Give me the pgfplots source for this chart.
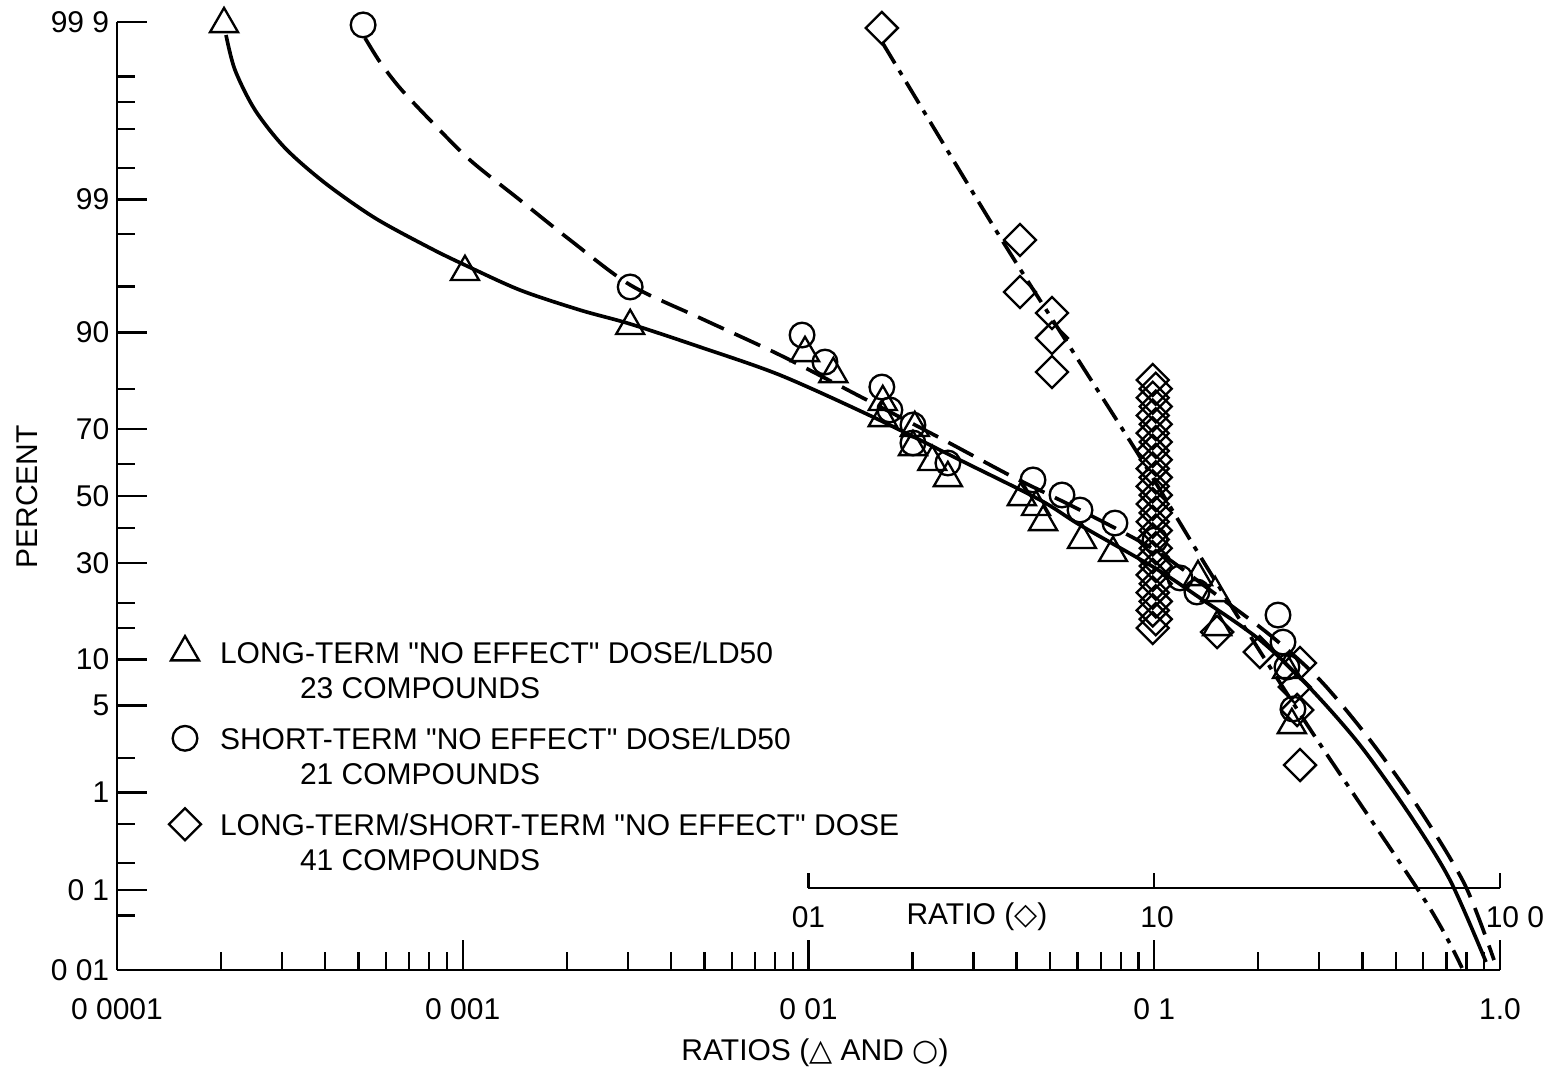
\documentclass[border=0pt]{standalone}
\usepackage{pgfplots}
\pgfplotsset{compat=1.18}
\usepackage{pgfplotstable}
\usepackage{fontspec}
\setmainfont{Liberation Sans}[Ligatures=TeXOff]
\newfontfamily\symfont{DejaVu Sans}
\newcommand{\q}{\symbol{34}}

% probit scale: y = z-value of the percentage
\pgfplotstableread{
x z
2.04e-4 3.703
1.015e-3 1.758
3.05e-3 1.334
9.77e-3 1.122
1.18e-2 0.957
1.64e-2 0.738
1.64e-2 0.612
2.03e-2 0.534
2.005e-2 0.384
2.28e-2 0.267
2.53e-2 0.141
4.14e-2 -0.008
4.55e-2 -0.086
4.77e-2 -0.204
6.18e-2 -0.345
7.60e-2 -0.447
0.1338 -0.636
0.150 -0.761
0.152 -1.028
0.242 -1.365
0.250 -1.797
}\triangles

\pgfplotstableread{
x z
5.15e-4 3.696
3.05e-3 1.640
9.58e-3 1.263
1.116e-2 1.051
1.63e-2 0.855
1.72e-2 0.675
2.005e-2 0.557
2.005e-2 0.416
2.53e-2 0.259
4.46e-2 0.126
5.41e-2 0.008
6.10e-2 -0.110
7.70e-2 -0.212
0.1005 -0.345
0.1187 -0.643
0.1329 -0.753
0.228 -0.934
0.2357 -1.146
0.242 -1.342
0.2519 -1.671
}\circles

% diamonds: ratio on the diamond scale
\pgfplotstableread{
x z
0.163 3.672
0.409 2.009
0.409 1.601
0.506 1.436
0.506 1.240
0.506 0.973
0.99 0.910
1.01 0.841
0.99 0.771
1.01 0.702
0.99 0.632
1.01 0.563
0.99 0.493
1.01 0.424
0.99 0.354
1.01 0.285
0.99 0.215
1.01 0.146
0.99 0.076
1.01 0.007
0.99 -0.063
1.01 -0.132
0.99 -0.202
1.01 -0.271
0.99 -0.341
1.01 -0.410
0.99 -0.480
1.01 -0.549
0.99 -0.619
1.01 -0.688
0.99 -0.758
1.01 -0.827
0.99 -0.897
1.01 -0.966
0.99 -1.036
1.52 -1.067
2.02 -1.224
2.64 -1.310
2.55 -1.499
2.59 -1.679
2.64 -2.111
}\diamonds

\pgfplotstableread{
x z
2.067e-4 3.617
2.194e-4 3.343
2.507e-4 3.029
3.061e-4 2.731
3.996e-4 2.456
5.575e-4 2.181
8.04e-4 1.946
1.015e-3 1.812
1.464e-3 1.616
2.184e-3 1.459
3.05e-3 1.350
4.856e-3 1.169
8.27e-3 0.949
1.537e-2 0.620
2.743e-2 0.282
4.673e-2 -0.031
6.10e-2 -0.228
0.1005 -0.565
0.1356 -0.800
0.2022 -1.130
0.2821 -1.506
0.3937 -1.954
0.5491 -2.503
0.7168 -3.013
0.9110 -3.656
}\solidfit

\pgfplotstableread{
x z
5.215e-4 3.594
5.763e-4 3.405
6.585e-4 3.201
8.04e-4 2.950
1.0495e-3 2.636
1.464e-3 2.322
2.043e-3 2.009
3.05e-3 1.656
4.856e-3 1.397
8.27e-3 1.106
1.476e-2 0.753
2.401e-2 0.455
3.905e-2 0.149
6.10e-2 -0.110
0.1005 -0.424
0.1450 -0.738
0.2162 -1.091
0.3016 -1.444
0.4207 -1.914
0.5869 -2.464
0.7921 -3.052
0.961 -3.641
}\dashedfit

\pgfplotstableread{
x z
0.1632 3.562
0.3509 2.071
0.5706 1.169
0.9095 0.306
1.479 -0.636
2.821 -1.828
6.110 -3.186
7.765 -3.703
}\dashdotfit

\pgfplotsset{mlegend/.style={legend image code/.code={%
  \path[draw=none, fill=none] (-8pt,0pt) -- (10.5pt,0pt);
  \draw[##1] plot coordinates {(0pt,3.3pt)};}}}

\newcommand{\lf}{\fontsize{9}{10.8}\selectfont}

\begin{document}
\begin{tikzpicture}
\useasboundingbox (0,0) rectangle (467.1pt,321.3pt);
\begin{axis}[
  at={(35.1pt,30.3pt)}, anchor=south west,
  scale only axis, width=414.9pt, height=284.4pt,
  xmode=log, xmin=1e-4, xmax=1,
  ymin=-3.719, ymax=3.719,
  axis lines*=left, clip=false,
  axis line style={line width=0.8pt, black},
  tick align=inside,
  major tick length=9pt, minor tick length=5.5pt,
  every tick/.style={black, line width=0.7pt},
  xtick={1e-4,1e-3,1e-2,1e-1,1},
  xticklabels={0 0001,0 001,0 01,0 1,1.0},
  minor xtick={2e-4,3e-4,4e-4,5e-4,6e-4,7e-4,8e-4,9e-4,2e-3,3e-3,4e-3,5e-3,6e-3,7e-3,8e-3,9e-3,0.02,0.03,0.04,0.05,0.06,0.07,0.08,0.09,0.2,0.3,0.4,0.5,0.6,0.7,0.8,0.9},
  ytick={-3.719,-3.0902,-2.3263,-1.6449,-1.2816,-0.5244,0,0.5244,1.2816,2.3263,3.719},
  yticklabels={0 01,0 1,1,5,10,30,50,70,90,99,99 9},
  minor ytick={-3.2905,-2.8782,-2.5758,-2.0537,-1.0364,-0.8416,-0.2533,0.2533,0.8416,1.6449,2.0537,2.5758,2.8782,3.0902,3.2905},
  /pgf/number format/assume math mode=true,
  tick label style={font=\lf, black},
  xticklabel style={yshift=-5pt},
  yticklabel style={xshift=1.2pt},
  legend cell align=left,
  legend style={at={(axis description cs:0.0299,0.3552)}, anchor=north west,
    draw=none, fill=none, inner sep=0pt, outer sep=0pt,
    row sep=0pt, column sep=0pt, font=\lf,
    nodes={inner sep=0pt, anchor=base west}},
]
% fitted curves
\addplot[forget plot, black, line width=1.1pt, smooth, tension=0.5] table[x=x, y=z] {\solidfit};
\addplot[forget plot, black, line width=1.1pt, smooth, tension=0.5, dash pattern=on 8.5pt off 3.5pt] table[x=x, y=z] {\dashedfit};
\addplot[forget plot, black, line width=1.1pt, smooth, tension=0.5, dash pattern=on 7.5pt off 2.5pt on 1.5pt off 2.5pt] table[x expr=\thisrowno{0}/10, y index=1] {\dashdotfit};

% data points
\addplot[only marks, black, mark=triangle, mark size=4.85pt, mark options={solid, line width=0.7pt, fill=none}, mlegend] table[x=x, y=z] {\triangles};
\addlegendentry{\rule[-3pt]{0pt}{12pt}LONG-TERM \q NO EFFECT\q\ DOSE/LD50}
\addlegendimage{empty legend}
\addlegendentry{\rule[-3pt]{0pt}{12pt}\hspace{24pt}23 COMPOUNDS}
\addplot[only marks, black, mark=o, mark size=3.7pt, mark options={solid, line width=0.7pt}, mlegend] table[x=x, y=z] {\circles};
\addlegendentry{\rule[-3pt]{0pt}{16.8pt}SHORT-TERM \q NO EFFECT\q\ DOSE/LD50}
\addlegendimage{empty legend}
\addlegendentry{\rule[-3pt]{0pt}{12pt}\hspace{24pt}21 COMPOUNDS}
\addplot[only marks, black, mark=square, mark size=3.4pt, mark options={solid, line width=0.7pt, rotate=45}, mlegend] table[x expr=\thisrowno{0}/10, y index=1] {\diamonds};
\addlegendentry{\rule[-3pt]{0pt}{16.8pt}LONG-TERM/SHORT-TERM \q NO EFFECT\q\ DOSE}
\addlegendimage{empty legend}
\addlegendentry{\rule[-3pt]{0pt}{12pt}\hspace{24pt}41 COMPOUNDS}

% secondary ratio scale for diamonds
\draw[line width=0.7pt] (axis cs:0.01,-3.076) -- (axis cs:1,-3.076);
\draw[line width=0.7pt] (axis cs:0.01,-3.076) -- ++(0pt,4.5pt);
\draw[line width=0.7pt] (axis cs:0.1,-3.076) -- ++(0pt,4.5pt);
\draw[line width=0.7pt] (axis cs:1,-3.076) -- ++(0pt,4.5pt);
\node[font=\lf, yshift=-8.7pt] at (axis cs:0.01,-3.076) {01};
\node[font=\lf, yshift=-8.7pt] at (axis cs:0.0307,-3.076) {RATIO ({\symfont ◇})};
\node[font=\lf, yshift=-8.7pt] at (axis cs:0.1019,-3.076) {10};
\node[font=\lf, yshift=-8.7pt] at (axis cs:1.105,-3.076) {10 0};

% axis titles
\node[font=\lf, rotate=90] at (axis description cs:-0.0651,0.499) {PERCENT};
\node[font=\lf] at (axis description cs:0.5047,-0.0876) {RATIOS ({\symfont △} AND {\symfont ○})};
\end{axis}
\end{tikzpicture}
\end{document}
